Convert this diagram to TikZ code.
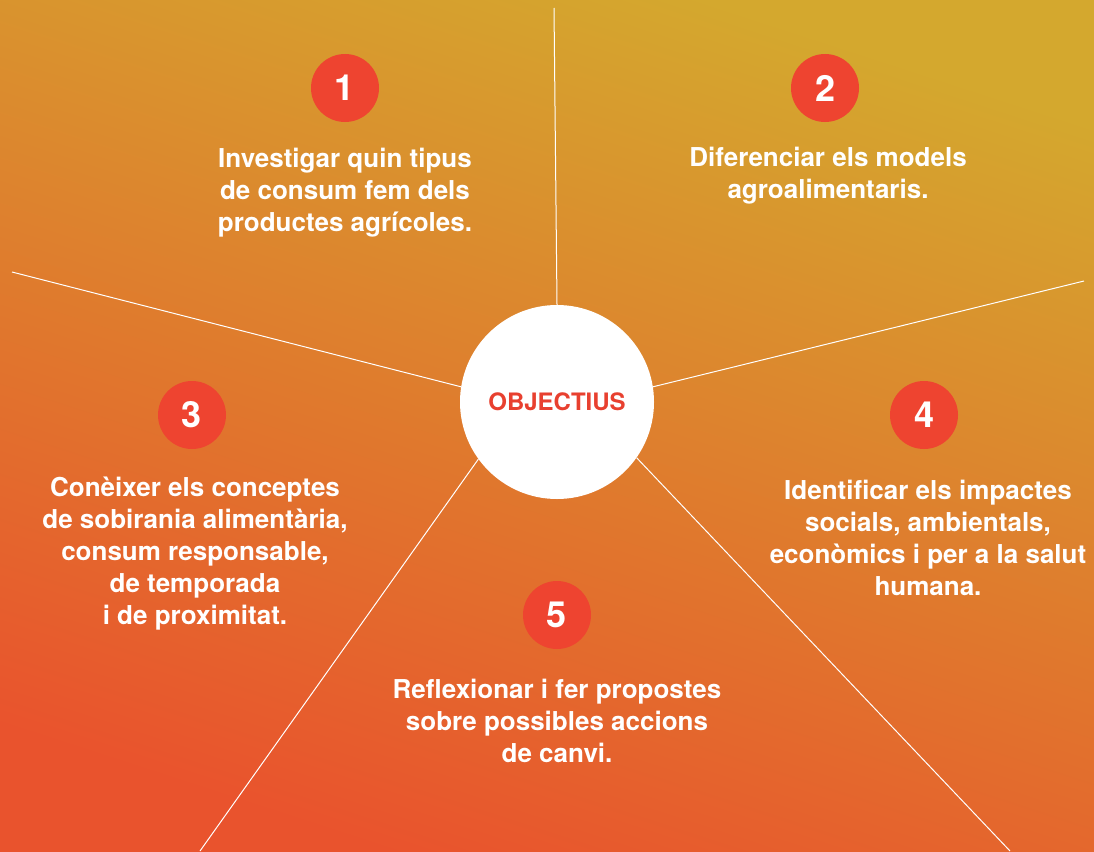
\documentclass[tikz,border=0pt]{standalone}
\usepackage{fontspec}
\setmainfont{TeX Gyre Heros}
\definecolor{bgtop}{HTML}{D4A82E}
\definecolor{bgbot}{HTML}{E9532D}
\definecolor{numred}{HTML}{EE4430}
\definecolor{objred}{HTML}{E8402F}
\tikzset{
  spoke/.style={draw=white, line width=1pt},
  numdot/.style={circle, fill=numred, minimum size=68pt, inner sep=0pt, text=white, font=\fontsize{36}{36}\selectfont\bfseries},
  goal/.style={align=center, text=white, inner sep=0pt, font=\fontsize{26}{32}\selectfont\bfseries},
}
\begin{document}
\begin{tikzpicture}[x=1pt,y=-1pt]
\useasboundingbox (0,0) rectangle (1094,851);
\shade[top color=bgtop, bottom color=bgbot, shading angle=-18] (0,0) rectangle (1094,851);
% center
\node[circle, fill=white, minimum size=194pt, inner sep=0pt, text=objred, font=\fontsize{24}{24}\selectfont\bfseries] (c) at (557,402) {OBJECTIUS};
\coordinate (eT) at (554,8);
\coordinate (eL) at (12,272);
\coordinate (eR) at (1084,281);
\coordinate (eBL) at (200,851);
\coordinate (eBR) at (1010,851);
\draw[spoke] (c.90) -- (eT);
\draw[spoke] (c.171) -- (eL);
\draw[spoke] (c.9) -- (eR);
\draw[spoke] (c.216) -- (eBL);
\draw[spoke] (c.325) -- (eBR);
% numbers
\node[numdot] (n1) at (345,88) {1};
\node[numdot] (n2) at (825,88) {2};
\node[numdot] (n3) at (192,415) {3};
\node[numdot] (n4) at (924,415) {4};
\node[numdot] (n5) at (557,615) {5};
% texts
\node[goal] (t1) at (345,193) {Investigar quin tipus\\de consum fem dels\\productes agrícoles.};
\node[goal] (t2) at (828,176) {Diferenciar els models\\agroalimentaris.};
\node[goal] (t3) at (195,554) {Conèixer els conceptes\\de sobirania alimentària,\\consum responsable,\\de temporada\\i de proximitat.};
\node[goal] (t4) at (928,538) {Identificar els impactes\\socials, ambientals,\\econòmics i per a la salut\\humana.};
\node[goal] (t5) at (557,721) {Reflexionar i fer propostes\\sobre possibles accions\\de canvi.};
\end{tikzpicture}
\end{document}
